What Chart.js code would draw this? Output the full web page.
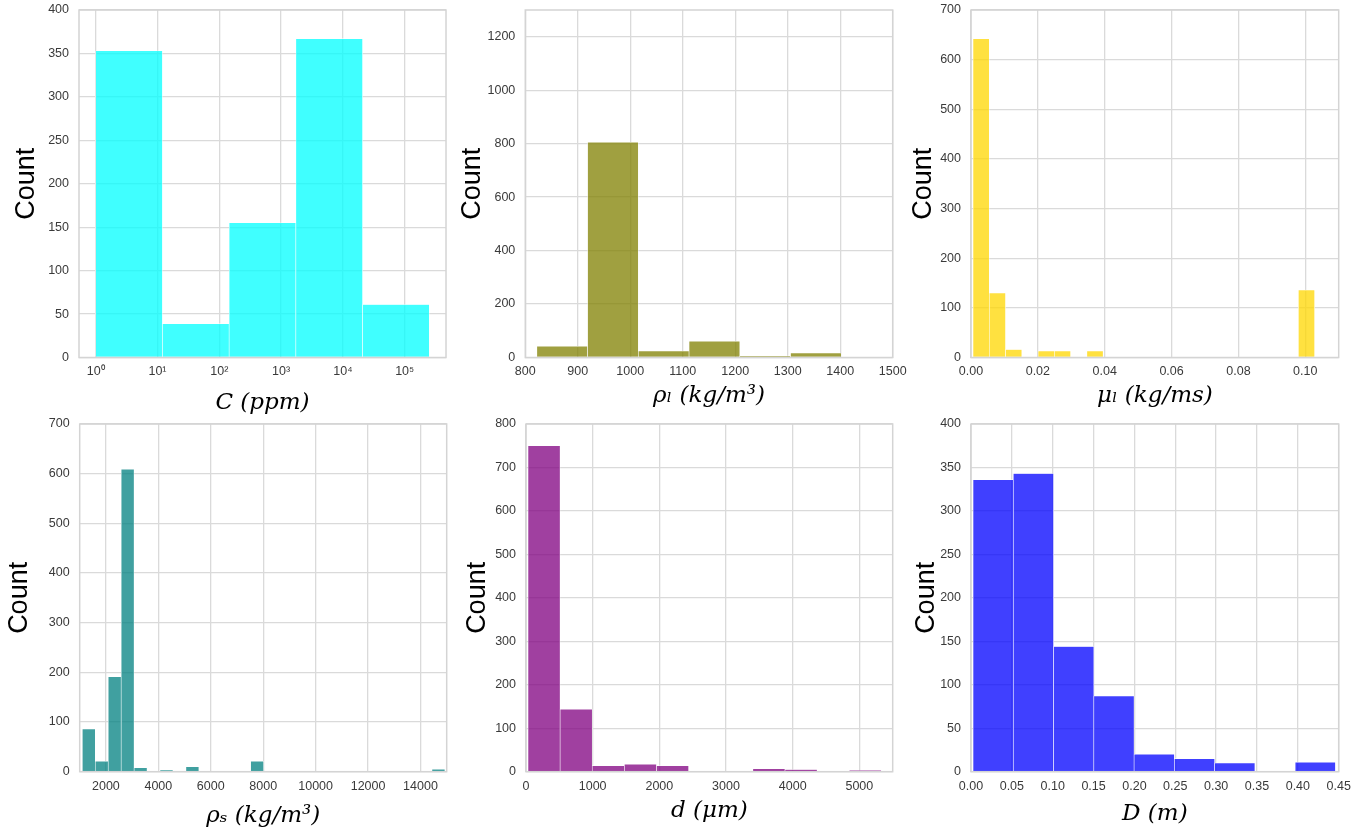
<!DOCTYPE html>
<html lang="en">
<head>
    <meta charset="UTF-8">
    <title>Histogramme dei parametri</title>
    <style>
        body {
            margin: 0;
            width: 1364px;
            height: 835px;
            overflow: hidden;
            background: #ffffff;
        }
        .panel {
            position: absolute;
        }
    </style>
    <script src="https://cdn.jsdelivr.net/npm/chart.js"></script>
</head>
<body>
    <div class="panel" style="left:0px;top:0px;width:455px;height:417px"><canvas id="chartConc"></canvas></div>
    <div class="panel" style="left:455px;top:0px;width:455px;height:417px"><canvas id="chartRhoL"></canvas></div>
    <div class="panel" style="left:910px;top:0px;width:454px;height:417px"><canvas id="chartMuL"></canvas></div>
    <div class="panel" style="left:0px;top:417px;width:455px;height:418px"><canvas id="chartRhoS"></canvas></div>
    <div class="panel" style="left:455px;top:417px;width:455px;height:418px"><canvas id="chartDp"></canvas></div>
    <div class="panel" style="left:910px;top:417px;width:454px;height:418px"><canvas id="chartDpipe"></canvas></div>

    <script>
        // C (ppm): bins are taken on log10(C)
        const concRange = [0, 5.398];
        const concCounts = [353, 39, 155, 367, 61];
        const concTicks = [0, 1, 2, 3, 4, 5];
        const concTickLabels = ['10⁰', '10¹', '10²', '10³', '10⁴', '10⁵'];
        const concYTicks = [0, 50, 100, 150, 200, 250, 300, 350, 400];

        // liquid density
        const rhoLRange = [822, 1402];
        const rhoLCounts = [42, 805, 24, 61, 6, 17];
        const rhoLTicks = [800, 900, 1000, 1100, 1200, 1300, 1400, 1500];
        const rhoLYTicks = [0, 200, 400, 600, 800, 1000, 1200];

        // liquid viscosity
        const muLRange = [0.0006, 0.1028];
        const muLCounts = [642, 130, 16, 0, 13, 13, 0, 13, 0, 0, 0, 0, 0, 0, 0, 0, 0, 0, 0, 0, 136];
        const muLTicks = [0, 0.02, 0.04, 0.06, 0.08, 0.10];
        const muLYTicks = [0, 100, 200, 300, 400, 500, 600, 700];

        // solid density
        const rhoSRange = [1100, 14932];
        const rhoSCounts = [86, 21, 191, 609, 8, 0, 3, 0, 10, 0, 0, 0, 0, 21,
                            0, 0, 0, 0, 0, 0, 0, 0, 0, 0, 0, 0, 0, 5];
        const rhoSTicks = [2000, 4000, 6000, 8000, 10000, 12000, 14000];
        const rhoSYTicks = [0, 100, 200, 300, 400, 500, 600, 700];

        // particle diameter
        const dpRange = [30, 5330];
        const dpCounts = [750, 144, 14, 17, 14, 0, 0, 7, 5, 0, 3];
        const dpTicks = [0, 1000, 2000, 3000, 4000, 5000];
        const dpYTicks = [0, 100, 200, 300, 400, 500, 600, 700, 800];

        // pipe diameter
        const pipeRange = [0.0025, 0.446];
        const pipeCounts = [336, 343, 144, 87, 20, 15, 10, 0, 11];
        const pipeTicks = [0, 0.05, 0.10, 0.15, 0.20, 0.25, 0.30, 0.35, 0.40, 0.45];
        const pipeYTicks = [0, 50, 100, 150, 200, 250, 300, 350, 400];

        const GRID = '#dadada';
        const TICK_FONT = { family: 'Liberation Sans, Arial, sans-serif', size: 12.5 };
        const LABEL_FONT = { family: 'DejaVu Serif, serif', style: 'italic', size: 23, lineHeight: 1 };

        // light frame round the plot area
        const framePlugin = {
            id: 'frame',
            afterDatasetsDraw(chart) {
                const { ctx, chartArea: a } = chart;
                ctx.save();
                ctx.strokeStyle = '#d4d4d4';
                ctx.lineWidth = 1.5;
                ctx.strokeRect(a.left, a.top, a.right - a.left, a.bottom - a.top);
                ctx.restore();
            }
        };

        function setTicks(values) {
            return axis => { axis.ticks = values.map(v => ({ value: v })); };
        }

        function histogram(id, range, counts, color, o) {
            const width = (range[1] - range[0]) / counts.length;
            const data = counts.map((c, i) => ({ x: range[0] + width * (i + 0.5), y: c }));

            new Chart(document.getElementById(id), {
                type: 'bar',
                data: {
                    datasets: [{
                        data: data,
                        backgroundColor: color,
                        borderColor: 'rgba(255,255,255,0.85)',
                        borderWidth: 0.6,
                        barThickness: 'flex',
                        categoryPercentage: 1,
                        barPercentage: 1
                    }]
                },
                options: {
                    responsive: true,
                    maintainAspectRatio: false,
                    animation: false,
                    devicePixelRatio: 1,
                    layout: { padding: { top: o.top, right: o.right, bottom: 0, left: 0 } },
                    plugins: { legend: { display: false }, tooltip: { enabled: false } },
                    scales: {
                        x: {
                            type: 'linear',
                            min: o.xMin,
                            max: o.xMax,
                            offset: false,
                            grid: { color: GRID, lineWidth: 1.3, drawTicks: false, offset: false },
                            border: { display: false },
                            ticks: {
                                font: TICK_FONT,
                                color: '#3a3a3a',
                                padding: 7,
                                autoSkip: false,
                                maxRotation: 0,
                                callback: o.xLabel
                            },
                            title: {
                                display: true,
                                text: o.title,
                                color: '#000000',
                                font: LABEL_FONT,
                                padding: { top: 0, bottom: o.titlePad }
                            },
                            afterBuildTicks: setTicks(o.xTicks),
                            afterFit(axis) {
                                axis.height = o.xh;
                                axis.paddingLeft = 0;
                                axis.paddingRight = 0;
                            }
                        },
                        y: {
                            min: 0,
                            max: o.yMax,
                            grid: { color: GRID, lineWidth: 1.3, drawTicks: false },
                            border: { display: false },
                            ticks: {
                                font: TICK_FONT,
                                color: '#3a3a3a',
                                padding: 10,
                                callback: v => String(v)
                            },
                            title: {
                                display: true,
                                text: 'Count',
                                color: '#000000',
                                font: { family: 'Liberation Sans, Arial, sans-serif', size: 27, lineHeight: 1 },
                                padding: { top: o.countPad, bottom: 0 }
                            },
                            afterBuildTicks: setTicks(o.yTicks),
                            afterFit(axis) {
                                axis.width = o.yw;
                                axis.paddingTop = 0;
                                axis.paddingBottom = 0;
                            }
                        }
                    }
                },
                plugins: [framePlugin]
            });
        }

        histogram('chartConc', concRange, concCounts, 'rgba(0,255,255,0.75)', {
            xMin: -0.27, xMax: 5.668, xTicks: concTicks, xLabel: (v, i) => concTickLabels[i],
            yMax: 400, yTicks: concYTicks, title: 'C (ppm)',
            top: 10, right: 9, yw: 79, xh: 59.5, countPad: 13, titlePad: 2
        });

        histogram('chartRhoL', rhoLRange, rhoLCounts, 'rgba(128,128,0,0.75)', {
            xMin: 800, xMax: 1500, xTicks: rhoLTicks, xLabel: v => String(v),
            yMax: 1300, yTicks: rhoLYTicks, title: 'ρₗ (kg/m³)',
            top: 10, right: 17.3, yw: 70.3, xh: 59.5, countPad: 4, titlePad: 9
        });

        histogram('chartMuL', muLRange, muLCounts, 'rgba(255,215,0,0.75)', {
            xMin: 0, xMax: 0.11, xTicks: muLTicks, xLabel: v => v.toFixed(2),
            yMax: 700, yTicks: muLYTicks, title: 'μₗ (kg/ms)',
            top: 10, right: 25.3, yw: 61, xh: 59.5, countPad: 0, titlePad: 9
        });

        histogram('chartRhoS', rhoSRange, rhoSCounts, 'rgba(0,128,128,0.75)', {
            xMin: 1000, xMax: 15000, xTicks: rhoSTicks, xLabel: v => String(v),
            yMax: 700, yTicks: rhoSYTicks, title: 'ρₛ (kg/m³)',
            top: 7, right: 8.3, yw: 79.7, xh: 63.3, countPad: 6, titlePad: 7
        });

        histogram('chartDp', dpRange, dpCounts, 'rgba(128,0,128,0.75)', {
            xMin: 0, xMax: 5500, xTicks: dpTicks, xLabel: v => String(v),
            yMax: 800, yTicks: dpYTicks, title: 'd (μm)',
            top: 7, right: 17.3, yw: 71, xh: 63.3, countPad: 9, titlePad: 12
        });

        histogram('chartDpipe', pipeRange, pipeCounts, 'rgba(0,0,255,0.75)', {
            xMin: 0, xMax: 0.45, xTicks: pipeTicks, xLabel: v => v.toFixed(2),
            yMax: 400, yTicks: pipeYTicks, title: 'D (m)',
            top: 7, right: 25.3, yw: 61, xh: 63.3, countPad: 3, titlePad: 9
        });
    </script>
</body>
</html>
